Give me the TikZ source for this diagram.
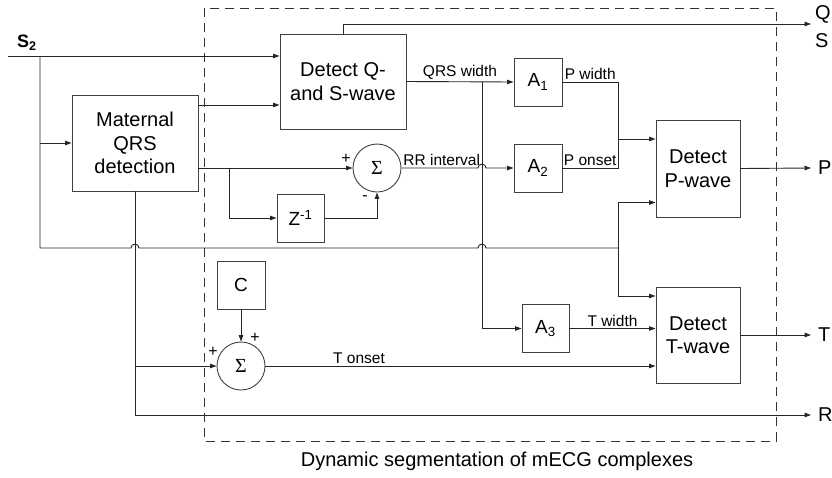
\documentclass[tikz,border=0pt]{standalone}
\usepackage{fontspec}
\setmainfont{Liberation Sans}
\newfontfamily\sigfont{Liberation Serif}
\usetikzlibrary{arrows.meta,positioning}

\begin{document}
\begin{tikzpicture}[x=1pt,y=-1pt,
  wire/.style={draw=black!85,line width=.9pt},
  feed/.style={wire,-{Triangle[length=6.5pt,width=4.5pt]}},
  block/.style={draw=black!75,line width=.9pt,inner sep=0pt,align=center,
    font=\fontsize{20}{23.5}\selectfont},
  gain/.style={block,minimum width=48pt,minimum height=48pt,
    font=\fontsize{19}{20}\selectfont},
  adder/.style={draw=black!75,line width=.9pt,circle,minimum size=48pt,
    inner sep=0pt,font=\sigfont\fontsize{20}{20}\selectfont},
  tag/.style={font=\fontsize{15.5}{16}\selectfont,inner sep=1.5pt},
  sign/.style={font=\fontsize{16}{16}\selectfont,inner sep=0pt},
  outlbl/.style={font=\fontsize{20}{20}\selectfont,anchor=west,inner sep=0pt},
  frame/.style={draw=black!80,line width=.8pt,dash pattern=on 9pt off 6pt}
]
 \path[use as bounding box] (0,0) rectangle (832,477);

 % Dashed frame round the dynamic segmentation part
 \draw[frame] (204,8) rectangle (776,441);
 \node[font=\fontsize{20}{22}\selectfont] (caption) at (497,461)
   {Dynamic segmentation of mECG complexes};

 % Blocks
 \node[block,minimum width=126pt,minimum height=96pt] (mqrs) at (135,143)
   {Maternal\\QRS\\detection};
 \node[block,minimum width=126pt,minimum height=95pt] (dqs) at (343,81.5)
   {Detect Q-\\and S-wave};
 \node[block,minimum width=84pt,minimum height=97pt] (dp) at (698,168.5)
   {Detect\\P-wave};
 \node[block,minimum width=84pt,minimum height=96pt] (dt) at (698,335)
   {Detect\\T-wave};
 \node[gain] (aone) at (538,82) {A\textsubscript{1}};
 \node[gain] (atwo) at (538,168) {A\textsubscript{2}};
 \node[gain,minimum width=47pt] (athree) at (545.5,328.5) {A\textsubscript{3}};
 \node[gain,minimum width=47pt] (zinv) at (300.5,218) {Z\textsuperscript{-1}};
 \node[gain] (cbox) at (241,285) {C};
 \node[adder] (sumrr) at (377,168) {Σ};
 \node[adder] (sumt) at (241,366) {Σ};

 % Signs at the adders
 \node[sign] (rrplus) at (346,159) {+};
 \node[sign] (rrminus) at (365,198) {-};
 \node[sign] (tplusa) at (213,352) {+};
 \node[sign] (tplusb) at (255,338) {+};

 % Input S2 and its branches
 \coordinate (s2in) at (8,56);
 \coordinate (s2split) at (40,56);
 \coordinate (s2low) at (40,248);
 \coordinate (hopa) at (131,248);
 \coordinate (hopb) at (478,248);
 \coordinate (pfork) at (618,248);
 \node[font=\fontsize{18}{18}\selectfont\bfseries,anchor=west,inner sep=0pt]
   (s2lbl) at (17,43) {S\textsubscript{2}};
 \draw[feed] (s2in) -- (dqs.west |- s2in);
 \draw[feed] (s2split |- mqrs.west) -- (mqrs.west);
 \draw[wire] (s2split) -- (s2low) -- (hopa)
   arc[start angle=180,end angle=0,radius=4pt] -- (hopb)
   arc[start angle=180,end angle=0,radius=4pt] -- (pfork);
 \draw[feed] (pfork) |- ([yshift=-34pt]dp.west);
 \draw[feed] (pfork) |- ([yshift=39pt]dt.west);

 % Maternal QRS outputs
 \draw[feed] ([yshift=38pt]mqrs.east) -- ([yshift=38pt]mqrs.east -| dqs.west);
 \draw[feed] (sumrr.west -| mqrs.east) -- (sumrr.west);
 \coordinate (zsplit) at (229,168);
 \draw[feed] (zsplit) |- (zinv.west);
 \draw[feed] (zinv.east) -| (sumrr.south);

 % Q- and S-wave outputs
 \coordinate (qsout) at (811,24);
 \draw[feed] (dqs.north) |- (qsout);
 \node[outlbl] (qlbl) at (815,14) {Q};
 \node[outlbl] (slbl) at (815,41) {S};
 \draw[feed] (dqs.east) -- node[tag,above] {QRS width} (aone.west);
 \coordinate (wsplit) at (482,82);
 \draw[feed] (wsplit) |- (athree.west);

 % RR interval and P-wave inputs
 \coordinate (hopc) at (478,168);
 \draw[feed] (sumrr.east) node[tag,anchor=south west] {RR interval} -- (hopc)
   arc[start angle=180,end angle=0,radius=4pt] -- (atwo.west);
 \coordinate (pjoin) at (618,139);
 \draw[wire] (aone.east) -| node[tag,above,pos=.25] {P width} (pjoin);
 \draw[wire] (atwo.east) -| node[tag,above,pos=.25] {P onset} (pjoin);
 \draw[feed] (pjoin) -- (pjoin -| dp.west);
 \coordinate (pout) at (811,168);
 \draw[feed] (dp.east) -- (pout);
 \node[outlbl] (plbl) at (818,168) {P};

 % T-wave inputs
 \draw[feed] (mqrs.south |- sumt.west) -- (sumt.west);
 \draw[feed] (cbox.south) -- (sumt.north);
 \draw[feed] (sumt.east) -- node[tag,above,pos=.24] {T onset} (sumt.east -| dt.west);
 \draw[feed] (athree.east) -- node[tag,above] {T width} (athree.east -| dt.west);
 \coordinate (tout) at (811,335);
 \draw[feed] (dt.east) -- (tout);
 \node[outlbl] (tlbl) at (818,335) {T};

 % R output
 \coordinate (rout) at (811,415);
 \draw[feed] (mqrs.south) |- (rout);
 \node[outlbl] (rlbl) at (818,415) {R};
\end{tikzpicture}
\end{document}
